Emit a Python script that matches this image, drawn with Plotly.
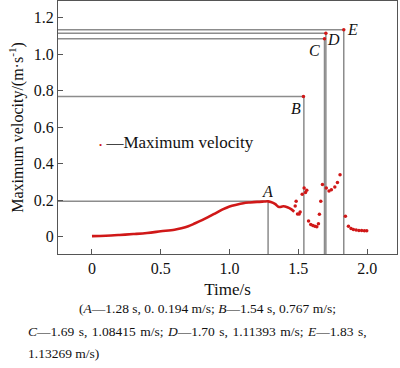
import plotly.graph_objects as go

# Smooth part of the maximum-velocity curve
curve_t = [0, 0.1, 0.2, 0.3, 0.4, 0.5, 0.6, 0.65, 0.7, 0.75, 0.8, 0.85, 0.9, 0.95,
           1.0, 1.05, 1.1, 1.15, 1.2, 1.25, 1.28, 1.3, 1.33, 1.36, 1.39, 1.42, 1.45, 1.47]
curve_v = [0.004, 0.006, 0.010, 0.015, 0.021, 0.030, 0.039, 0.047, 0.058, 0.074, 0.091, 0.110,
           0.130, 0.150, 0.166, 0.176, 0.184, 0.188, 0.191, 0.193, 0.194, 0.190, 0.180, 0.163,
           0.167, 0.162, 0.150, 0.137]

# Scattered points after 1.47 s
dots_t = [1.477, 1.484, 1.494, 1.506, 1.513, 1.528, 1.537, 1.542, 1.552, 1.561, 1.574, 1.59,
          1.605, 1.62, 1.634, 1.646, 1.653, 1.663, 1.675, 1.69, 1.70, 1.703, 1.723, 1.74, 1.765,
          1.784, 1.803, 1.83, 1.842, 1.864, 1.883, 1.90, 1.92, 1.94, 1.96, 1.98, 1.997]
dots_v = [0.169, 0.195, 0.125, 0.125, 0.136, 0.233, 0.767, 0.267, 0.242, 0.255, 0.086, 0.068,
          0.062, 0.058, 0.055, 0.071, 0.124, 0.195, 0.286, 1.084, 1.114, 0.267, 0.251, 0.258,
          0.273, 0.297, 0.340, 1.133, 0.113, 0.058, 0.046, 0.040, 0.037, 0.035, 0.034, 0.033, 0.033]

# Marked points A-E
key_labels = ["A", "B", "C", "D", "E"]
key_t = [1.28, 1.54, 1.69, 1.70, 1.83]
key_v = [0.194, 0.767, 1.08415, 1.11393, 1.13269]
label_shift = [(-1, 10), (-8, -12), (-10, -12), (8, -6), (9, 0)]

x_range = [-0.247, 2.217]
y_range = [-0.094, 1.29]
x_ticks = [0, 0.5, 1.0, 1.5, 2.0]
x_tick_text = ["0", "0.5", "1.0", "1.5", "2.0"]
y_ticks = [0, 0.2, 0.4, 0.6, 0.8, 1.0, 1.2]
y_tick_text = ["0", "0.2", "0.4", "0.6", "0.8", "1.0", "1.2"]

SP = "&#8196;"
caption = [
    "(<i>A</i>—1.28 s, 0. 0.194 m/s; <i>B</i>—1.54 s, 0.767 m/s;",
    SP.join(["<i>C</i>—1.69", "s,", "1.08415", "m/s;", "<i>D</i>—1.70", "s,", "1.11393",
             "m/s;", "<i>E</i>—1.83", "s,"]),
    "1.13269 m/s)",
]

RED = "#d01818"
GRAY = "#8c8c8c"
FONT = "Liberation Serif, Times New Roman, serif"

fig = go.Figure()

for lab, t, v in zip(key_labels, key_t, key_v):
    fig.add_trace(go.Scatter(x=[x_range[0], t, t], y=[v, v, y_range[0]], mode="lines",
                             line=dict(color=GRAY, width=1.5), showlegend=False,
                             hoverinfo="skip"))

fig.add_trace(go.Scatter(x=curve_t, y=curve_v, mode="lines", line=dict(color=RED, width=2.6, shape="spline"),
                         showlegend=False))
fig.add_trace(go.Scatter(x=dots_t, y=dots_v, mode="markers", marker=dict(color=RED, size=3.5),
                         showlegend=False))

for lab, t, v, (dx, dy) in zip(key_labels, key_t, key_v, label_shift):
    fig.add_annotation(x=t, y=v, text="<i>%s</i>" % lab, showarrow=False, xshift=dx, yshift=dy,
                       font=dict(family=FONT, size=16, color="#111"))

# legend (drawn as text)
fig.add_annotation(xref="paper", yref="paper", x=(97 - 57.5) / 339.5, y=1 - 142 / 254,
                   xanchor="left", yanchor="middle", showarrow=False,
                   text="<span style='color:%s;font-size:9px'>•</span> <span style='color:#444'>—</span>Maximum velocity" % RED,
                   font=dict(family=FONT, size=17, color="#111"))

# caption
cap_pos = [(207, 309, "center"), (25, 332, "left"), (25, 354, "left")]
for txt, (px, py, anc) in zip(caption, cap_pos):
    fig.add_annotation(xref="paper", yref="paper", x=(px - 57.5) / 339.5, y=1 - py / 254,
                       xanchor=anc, yanchor="middle", showarrow=False, text=txt,
                       font=dict(family=FONT, size=13.5, color="#111"))

axis_common = dict(showline=True, linecolor="#555", linewidth=1, mirror=True, ticks="inside",
                   ticklen=5, tickcolor="#555", showgrid=False, zeroline=False, automargin=False,
                   tickfont=dict(family=FONT, size=16, color="#111"))

fig.update_xaxes(range=x_range, tickvals=x_ticks, ticktext=x_tick_text,
                 title=dict(text="Time/s", font=dict(family=FONT, size=17, color="#111"), standoff=6),
                 **axis_common)
fig.update_yaxes(range=y_range, tickvals=y_ticks, ticktext=y_tick_text,
                 title=dict(text="Maximum velocity/(m·s<sup>-1</sup>)", font=dict(family=FONT, size=16, color="#111"), standoff=6),
                 **axis_common)

fig.update_layout(width=400, height=368, margin=dict(l=57.5, r=3, t=1, b=114),
                  plot_bgcolor="white", paper_bgcolor="white")

fig.write_html("out.html", config={"displayModeBar": False},
               post_script="document.body.style.margin='0';")
